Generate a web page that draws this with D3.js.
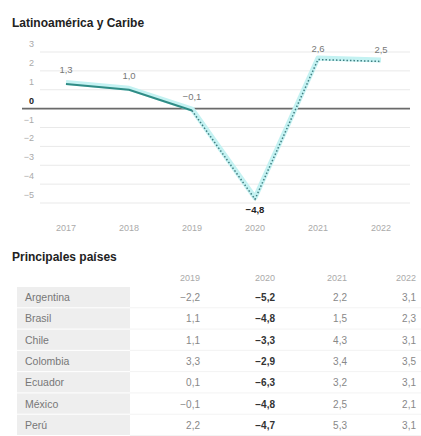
<!DOCTYPE html>
<html><head><meta charset="utf-8">
<script src="https://cdn.jsdelivr.net/npm/d3@7"></script>
<style>
html,body{margin:0;padding:0;background:#fff;}
svg{display:block;font-family:"Liberation Sans",Arial,sans-serif;}
</style></head>
<body><svg id="c" width="421" height="436"></svg>
<script>
// ---- data ----
const years = ["2017","2018","2019","2020","2021","2022"];
const growth = [1.3, 1.0, -0.1, -4.8, 2.6, 2.5];
const yTicks = [3, 2, 1, 0, -1, -2, -3, -4, -5];
const countries = ["Argentina","Brasil","Chile","Colombia","Ecuador","México","Perú"];
const tableYears = ["2019","2020","2021","2022"];
const v2019 = [-2.2, 1.1, 1.1, 3.3, 0.1, -0.1, 2.2];
const v2020 = [-5.2, -4.8, -3.3, -2.9, -6.3, -4.8, -4.7];
const v2021 = [2.2, 1.5, 4.3, 3.4, 3.2, 2.5, 5.3];
const v2022 = [3.1, 2.3, 3.1, 3.5, 3.1, 2.1, 3.1];

const fmt = v => (v < 0 ? "\u2212" : "") + Math.abs(v).toFixed(1).replace(".", ",");

const svg = d3.select("#c");

// ---- line chart ----
svg.append("text").attr("x", 12).attr("y", 27).attr("font-size", 12).attr("font-weight", "bold")
  .attr("fill", "#222").text("Latinoamérica y Caribe");

const x = d3.scalePoint().domain(years).range([66, 381]);
const y = d3.scaleLinear().domain([-5, 3]).range([203, 52]);

// gridlines
svg.append("g").selectAll("line").data(yTicks.filter(t => t !== 0)).join("line")
  .attr("x1", 40).attr("x2", 410).attr("y1", d => y(d)).attr("y2", d => y(d))
  .attr("stroke", "#e9e9e9").attr("stroke-width", 1);
// y labels
svg.append("g").selectAll("text").data(yTicks).join("text")
  .attr("x", 34).attr("y", d => y(d) - 5).attr("text-anchor", "end")
  .attr("font-size", 9).attr("fill", d => d === 0 ? "#222" : "#aaa")
  .attr("font-weight", d => d === 0 ? "bold" : "normal")
  .text(d => d === 0 ? "0" : fmt(d).replace(",0", ""));
// zero line
svg.append("line").attr("x1", 22).attr("x2", 410).attr("y1", y(0)).attr("y2", y(0))
  .attr("stroke", "#6a6a6a").attr("stroke-width", 1.6);

// x labels
svg.append("g").selectAll("text").data(years).join("text")
  .attr("x", d => x(d)).attr("y", 231).attr("text-anchor", "middle")
  .attr("font-size", 9).attr("fill", "#aaa").text(d => d);

const pts = years.map((yr, i) => ({yr, v: growth[i]}));
const line = d3.line().x(d => x(d.yr)).y(d => y(d.v));
const solid = pts.slice(0, 3), dotted = pts.slice(2);
// halo
svg.append("path").datum(pts).attr("d", line).attr("fill", "none")
  .attr("stroke", "#c4f2f2").attr("stroke-width", 5).attr("stroke-linejoin", "round")
  .attr("transform", "translate(0,-1.5)");
svg.append("path").datum(solid).attr("d", line).attr("fill", "none")
  .attr("stroke", "#2f8c86").attr("stroke-width", 2);
svg.append("path").datum(dotted).attr("d", line).attr("fill", "none")
  .attr("stroke", "#3f7d80").attr("stroke-width", 1.5).attr("stroke-dasharray", "1.5,2");

// data labels
svg.append("g").selectAll("text").data(pts).join("text")
  .attr("x", d => x(d.yr)).attr("text-anchor", "middle")
  .attr("y", d => d.v < -1 ? y(d.v) + 14 : (d.v > 2 ? y(d.v) - 8 : y(d.v) - 11))
  .attr("font-size", 9.5).attr("font-weight", d => d.v < -1 ? "bold" : "normal")
  .attr("fill", d => d.v < -1 ? "#222" : "#777").text(d => fmt(d.v));

// ---- table ----
svg.append("text").attr("x", 12).attr("y", 261).attr("font-size", 12).attr("font-weight", "bold")
  .attr("fill", "#222").text("Principales países");

const colRight = [200, 275, 347, 416];
const cols = [v2019, v2020, v2021, v2022];
svg.append("g").selectAll("text").data(tableYears).join("text")
  .attr("x", (d, i) => colRight[i]).attr("y", 281).attr("text-anchor", "end")
  .attr("font-size", 9).attr("fill", "#aaa").text(d => d);

const rowY = d3.scaleBand().domain(countries).range([287, 436]);
const rows = svg.append("g").selectAll("g").data(countries).join("g")
  .attr("transform", d => `translate(0,${rowY(d)})`);
rows.append("rect").attr("x", 17).attr("width", 113).attr("height", rowY.bandwidth() - 1)
  .attr("fill", "#eeeeee");
rows.append("line").attr("x1", 130).attr("x2", 421).attr("y1", rowY.bandwidth() - 0.5).attr("y2", rowY.bandwidth() - 0.5)
  .attr("stroke", "#f3f3f3");
rows.append("text").attr("x", 25).attr("y", rowY.bandwidth() / 2 + 3.5).attr("font-size", 10.5)
  .attr("fill", "#777").text(d => d);
cols.forEach((arr, ci) => {
  rows.append("text").attr("x", colRight[ci]).attr("y", rowY.bandwidth() / 2 + 3.5)
    .attr("text-anchor", "end").attr("font-size", 10)
    .attr("font-weight", ci === 1 ? "bold" : "normal")
    .attr("fill", ci === 1 ? "#333" : "#888")
    .text((d, i) => fmt(arr[i]));
});
</script></body></html>
